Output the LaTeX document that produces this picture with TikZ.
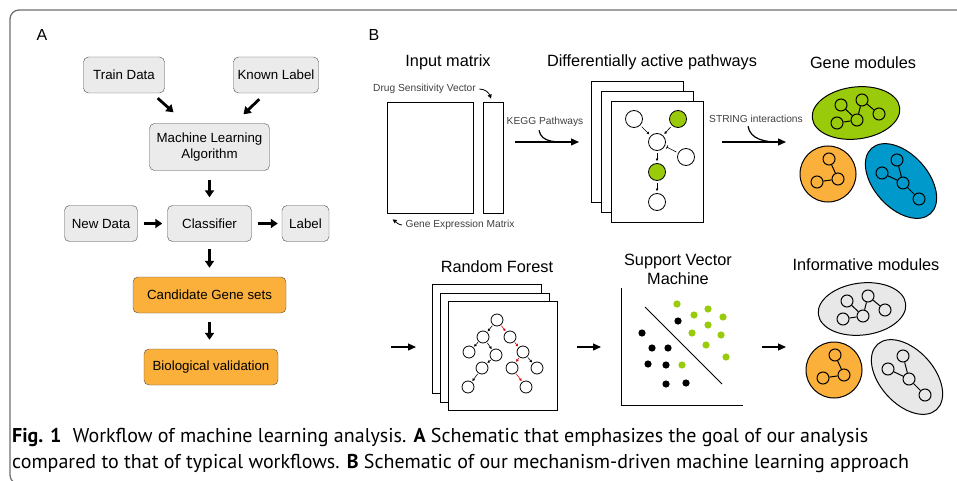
\documentclass[tikz,border=0pt]{standalone}
\usepackage{fontspec}
\setmainfont{Liberation Sans}
\newfontfamily\captionfont{PT Sans}
\usetikzlibrary{arrows.meta}

\definecolor{boxgray}{HTML}{EBEBEB}
\definecolor{modgray}{HTML}{E8E8E8}
\definecolor{modorange}{HTML}{FBB03B}
\definecolor{modgreen}{HTML}{9ACB0A}
\definecolor{modblue}{HTML}{0099CC}
\definecolor{framegray}{HTML}{6E6E6E}

\tikzset{
  flowbox/.style={draw=black!70, rectangle, rounded corners=5, fill=boxgray, font=\fontsize{13.3}{16.3}\selectfont, minimum height=36, inner sep=0, align=center},
  flowarrow/.style={line width=2.8, -{Triangle[length=7,width=9]}},
  steparrow/.style={line width=1.2, -{Triangle[length=8,width=7]}},
  steptitle/.style={font=\fontsize{16.3}{19}\selectfont},
  panellabel/.style={font=\fontsize{16}{19}\selectfont},
  smallnote/.style={font=\fontsize{10.2}{12}\selectfont, text=black!75},
  notearrow/.style={line width=0.8, -{Triangle[length=4,width=4]}},
  sheet/.style={draw, fill=white, line width=0.8, inner sep=0},
  pathnode/.style={circle, draw, fill=white, minimum size=17, inner sep=0, line width=0.8},
  treenode/.style={circle, draw, fill=white, minimum size=12, inner sep=0, line width=0.8},
  modnode/.style={circle, draw, minimum size=12, inner sep=0, line width=1},
  smallarrow/.style={line width=0.6, -{Triangle[length=2.5,width=2.5]}, shorten <=1, shorten >=1},
  redarrow/.style={smallarrow, red!85!black},
  captext/.style={anchor=west, inner sep=0, font=\captionfont\fontsize{20}{23}\selectfont},
}

% three gene modules: #1 name prefix, #2 shift, #3 #4 #5 fills
\newcommand\genemodules[5]{
  \begin{scope}[shift={#2}]
    \draw[line width=1, fill=#3, shift={(856,113)}, rotate=7] (0,0) ellipse [x radius=44, y radius=26];
    \draw[line width=1, fill=#4] (828,174) circle (28);
    \draw[line width=1, fill=#5, shift={(901,181)}, rotate=-48] (0,0) ellipse [x radius=44, y radius=27];
    \node[modnode] (#1a) at (841,105) {};
    \node[modnode] (#1b) at (862,100) {};
    \node[modnode] (#1c) at (879,114) {};
    \node[modnode] (#1d) at (857,120) {};
    \node[modnode] (#1e) at (837,123) {};
    \node[modnode] (#1f) at (829,159) {};
    \node[modnode] (#1g) at (838,179) {};
    \node[modnode] (#1h) at (817,182) {};
    \node[modnode] (#1i) at (897,160) {};
    \node[modnode] (#1j) at (882,173) {};
    \node[modnode] (#1k) at (903,183) {};
    \node[modnode] (#1l) at (919,199) {};
    \draw[line width=1] (#1a) -- (#1d) (#1b) -- (#1d) (#1b) -- (#1c) (#1d) -- (#1e);
    \draw[line width=1] (#1f) -- (#1g) -- (#1h);
    \draw[line width=1] (#1i) -- (#1k) (#1j) -- (#1k) -- (#1l);
  \end{scope}
}

\begin{document}
\begin{tikzpicture}[x=1pt, y=-1pt]
  \useasboundingbox (0,0) rectangle (957,481);
  \draw[framegray, line width=1.3, rounded corners=9] (965,10) -- (10,10) -- (10,484) -- (965,484);

  % panel A
  \node[panellabel] (lblA) at (42,35) {A};
  \node[flowbox, minimum width=81] (train) at (124,75) {Train Data};
  \node[flowbox, minimum width=85] (known) at (276,75) {Known Label};
  \node[flowbox, minimum width=120, minimum height=47] (mla) at (209.5,147) {Machine Learning\\Algorithm};
  \node[flowbox, minimum width=84] (clf) at (209.5,223.5) {Classifier};
  \node[flowbox, minimum width=73] (newd) at (101,223.5) {New Data};
  \node[flowbox, minimum width=47] (lab) at (305.5,223.5) {Label};
  \node[flowbox, fill=modorange, minimum width=153] (cand) at (209.5,295) {Candidate Gene sets};
  \node[flowbox, fill=modorange, minimum width=134] (bio) at (211,367) {Biological validation};
  \draw[flowarrow] ([shift={(-7,5)}]train.south east) -- ([shift={(-36,-11)}]mla.north);
  \draw[flowarrow] ([shift={(26,6)}]known.south west) -- ([shift={(34,-9)}]mla.north);
  \draw[flowarrow, shorten <=9, shorten >=8] (mla) -- (clf);
  \draw[flowarrow, shorten <=6, shorten >=5] (newd) -- (clf);
  \draw[flowarrow, shorten <=6, shorten >=4] (clf) -- (lab);
  \draw[flowarrow, shorten <=7, shorten >=9] (clf) -- (cand);
  \draw[flowarrow, shorten <=9, shorten >=9] (cand) -- (bio.north -| cand);

  % panel B, top row
  \node[panellabel] (lblB) at (374,35) {B};
  \node[steptitle] (tinput) at (448,62) {Input matrix};
  \node[sheet, minimum width=86, minimum height=111] (gexp) at (430,157.5) {};
  \node[sheet, minimum width=20, minimum height=111] (dsens) at (493,157.5) {};
  \node[smallnote] (ndsens) at (424.5,89) {Drug Sensitivity Vector};
  \node[smallnote] (ngexp) at (460,225) {Gene Expression Matrix};
  \draw[notearrow] (ndsens.east) to[out=0, in=110] ([shift={(-2,-3)}]dsens.north);
  \draw[notearrow] (ngexp.west) to[out=175, in=-35] ([shift={(6,6)}]gexp.south west);

  \node[smallnote] (nkegg) at (545,122) {KEGG Pathways};
  \coordinate (k0) at (515,142);
  \coordinate (k1) at (579,142);
  \draw[steparrow] (k0) -- (k1);
  \draw[line width=1.2] ([xshift=-6]nkegg.south) to[out=-80, in=180] ([xshift=-8]k1);

  \node[steptitle] (tpath) at (652,62) {Differentially active pathways};
  \node[sheet, minimum width=92, minimum height=121, anchor=north west] (pg1) at (591,81) {};
  \node[sheet, minimum width=92, minimum height=121, anchor=north west] (pg2) at (601,91) {};
  \node[sheet, minimum width=92, minimum height=121, anchor=north west] (pg3) at (611,101) {};
  \node[pathnode] (p1) at (634,119) {};
  \node[pathnode, fill=modgreen] (p2) at (678,119) {};
  \node[pathnode] (p3) at (657,142) {};
  \node[pathnode] (p4) at (686,157) {};
  \node[pathnode, fill=modgreen] (p5) at (657,172) {};
  \node[pathnode] (p6) at (657,202) {};
  \draw[smallarrow, shorten <=2, shorten >=2] (p1) -- (p3);
  \draw[smallarrow, shorten <=2, shorten >=2] (p2) -- (p3);
  \draw[smallarrow, shorten <=2, shorten >=2] (p3) -- (p5);
  \draw[smallarrow, shorten <=2, shorten >=2] (p5) -- (p6);
  \draw[line width=0.6, -{Bar[width=4]}, shorten <=2, shorten >=2] (p4) -- (p3);

  \node[smallnote] (nstring) at (756,119) {STRING interactions};
  \coordinate (s0) at (722,142);
  \coordinate (s1) at (786,142);
  \draw[steparrow] (s0) -- (s1);
  \draw[line width=1.2] ([xshift=-8]nstring.south) to[out=-80, in=180] ([xshift=-8]s1);

  \node[steptitle] (tgene) at (863,63) {Gene modules};
  \genemodules{g}{(0,0)}{modgreen}{modorange}{modblue}

  % panel B, bottom row
  \coordinate (r0) at (391,347);
  \coordinate (r1) at (416,347);
  \draw[steparrow] (r0) -- (r1);
  \node[steptitle] (tforest) at (497,267) {Random Forest};
  \node[sheet, minimum width=109, minimum height=109, anchor=north west] (fs1) at (432,284) {};
  \node[sheet, minimum width=109, minimum height=109, anchor=north west] (fs2) at (440,293) {};
  \node[sheet, minimum width=109, minimum height=109, anchor=north west] (fs3) at (448,301) {};
  \node[treenode] (t0) at (497,320) {};
  \node[treenode] (t1) at (483,337) {};
  \node[treenode] (t2) at (510,337) {};
  \node[treenode] (t3) at (469,352) {};
  \node[treenode] (t4) at (496,355) {};
  \node[treenode] (t5) at (523,352) {};
  \node[treenode] (t6) at (482,368) {};
  \node[treenode] (t7) at (512,368) {};
  \node[treenode] (t8) at (537,368) {};
  \node[treenode] (t9) at (468,387) {};
  \node[treenode] (t10) at (526,387) {};
  \draw[smallarrow] (t0) -- (t1);
  \draw[smallarrow] (t1) -- (t3);
  \draw[smallarrow] (t1) -- (t4);
  \draw[smallarrow] (t4) -- (t6);
  \draw[smallarrow] (t6) -- (t9);
  \draw[smallarrow] (t5) -- (t8);
  \draw[redarrow] (t0) -- (t2);
  \draw[redarrow] (t2) -- (t5);
  \draw[redarrow] (t5) -- (t7);
  \draw[redarrow] (t7) -- (t10);

  \coordinate (v0) at (577,347);
  \coordinate (v1) at (601,347);
  \draw[steparrow] (v0) -- (v1);
  \node[steptitle, align=center] (tsvm) at (678,269.5) {Support Vector\\Machine};
  \coordinate (ax0) at (621,288);
  \coordinate (ax1) at (621,405);
  \coordinate (ax2) at (743,405);
  \draw[line width=1] (ax0) -- (ax1) -- (ax2);
  \draw[line width=0.8] (645,307) -- (722,384);
  \fill (678,321) circle (3.6) (642,333) circle (3.6) (652,348) circle (3.6) (668,348) circle (3.6)
        (648,364) circle (3.6) (666,365) circle (3.6) (666,384) circle (3.6) (686,383) circle (3.6);
  \fill[modgreen] (677,304) circle (3.6) (694,315) circle (3.6) (708,309) circle (3.6) (723,317) circle (3.6)
        (708,325) circle (3.6) (692,333) circle (3.6) (721,335) circle (3.6) (706,345) circle (3.6)
        (726,357) circle (3.6) (682,365) circle (3.6);

  \coordinate (m0) at (762,347);
  \coordinate (m1) at (786,347);
  \draw[steparrow] (m0) -- (m1);
  \node[steptitle] (tinfo) at (866,265) {Informative modules};
  \genemodules{h}{(6,196)}{modgray}{modorange}{modgray}

  % caption
  \node[captext] (cap1) at (12,437)
    {\textbf{Fig. 1}\hspace{0.3em} Workflow of machine learning analysis. \textbf{A} Schematic that emphasizes the goal of our analysis};
  \node[captext] (cap2) at (12,463)
    {compared to that of typical workflows. \textbf{B} Schematic of our mechanism-driven machine learning approach};
\end{tikzpicture}
\end{document}
